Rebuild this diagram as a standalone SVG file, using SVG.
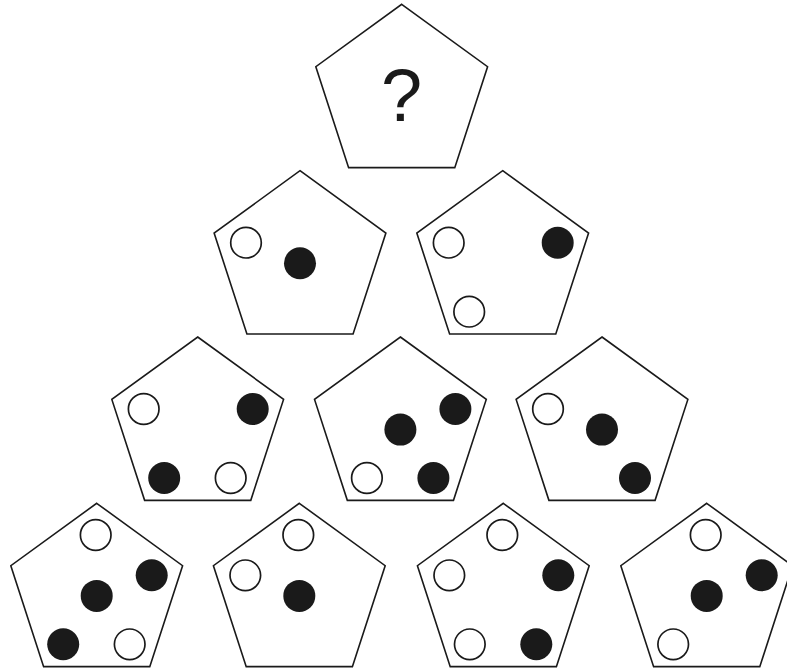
<svg xmlns="http://www.w3.org/2000/svg" xmlns:xlink="http://www.w3.org/1999/xlink" width="787" height="670" viewBox="0 0 787 670">
<style>
.pg{fill:#fff;stroke:#1a1a1a;stroke-width:1.6;stroke-linejoin:miter}
.o{fill:#fff;stroke:#1a1a1a;stroke-width:1.7}
.f{fill:#1a1a1a;stroke:none}
.q{font-family:"Liberation Sans",Arial,sans-serif;font-size:74px;fill:#1a1a1a;text-anchor:middle}
</style>
<defs>
<polygon id="pent" points="0,-90.3 85.88,-27.9 53.08,73.05 -53.08,73.05 -85.88,-27.9"/>
</defs>
<rect width="787" height="670" fill="#fff"/>
<g id="connectors"/>
<g id="top" transform="translate(401.7,94.6)">
<use xlink:href="#pent" class="pg"/>
<text class="q" x="0" y="26">?</text>
</g>
<g id="r2a" transform="translate(300,261)">
<use xlink:href="#pent" class="pg"/>
<circle class="o" cx="-54" cy="-18.3" r="15.3"/>
<circle class="f" cx="0" cy="2.3" r="16"/>
</g>
<g id="r2b" transform="translate(502.7,261)">
<use xlink:href="#pent" class="pg"/>
<circle class="o" cx="-54" cy="-18.3" r="15.3"/>
<circle class="f" cx="55" cy="-18.3" r="16"/>
<circle class="o" cx="-33.5" cy="50.7" r="15.3"/>
</g>
<g id="r3a" transform="translate(197.7,427.3)">
<use xlink:href="#pent" class="pg"/>
<circle class="o" cx="-54" cy="-18.3" r="15.3"/>
<circle class="f" cx="55" cy="-18.3" r="16"/>
<circle class="f" cx="-33.5" cy="50.7" r="16"/>
<circle class="o" cx="33" cy="50.7" r="15.3"/>
</g>
<g id="r3b" transform="translate(400.4,427.3)">
<use xlink:href="#pent" class="pg"/>
<circle class="f" cx="0" cy="2.3" r="16"/>
<circle class="f" cx="55" cy="-18.3" r="16"/>
<circle class="o" cx="-33.5" cy="50.7" r="15.3"/>
<circle class="f" cx="33" cy="50.7" r="16"/>
</g>
<g id="r3c" transform="translate(602,427.3)">
<use xlink:href="#pent" class="pg"/>
<circle class="o" cx="-54" cy="-18.3" r="15.3"/>
<circle class="f" cx="0" cy="2.3" r="16"/>
<circle class="f" cx="33" cy="50.7" r="16"/>
</g>
<g id="r4a" transform="translate(96.7,593.6)">
<use xlink:href="#pent" class="pg"/>
<circle class="o" cx="-1" cy="-58.6" r="15.3"/>
<circle class="f" cx="55" cy="-18.3" r="16"/>
<circle class="f" cx="0" cy="2.3" r="16"/>
<circle class="f" cx="-33.5" cy="50.7" r="16"/>
<circle class="o" cx="33" cy="50.7" r="15.3"/>
</g>
<g id="r4b" transform="translate(299.3,593.6)">
<use xlink:href="#pent" class="pg"/>
<circle class="o" cx="-1" cy="-58.6" r="15.3"/>
<circle class="o" cx="-54" cy="-18.3" r="15.3"/>
<circle class="f" cx="0" cy="2.3" r="16"/>
</g>
<g id="r4c" transform="translate(503.3,593.6)">
<use xlink:href="#pent" class="pg"/>
<circle class="o" cx="-1" cy="-58.6" r="15.3"/>
<circle class="o" cx="-54" cy="-18.3" r="15.3"/>
<circle class="f" cx="55" cy="-18.3" r="16"/>
<circle class="o" cx="-33.5" cy="50.7" r="15.3"/>
<circle class="f" cx="33" cy="50.7" r="16"/>
</g>
<g id="r4d" transform="translate(706.7,593.6)">
<use xlink:href="#pent" class="pg"/>
<circle class="o" cx="-1" cy="-58.6" r="15.3"/>
<circle class="f" cx="55" cy="-18.3" r="16"/>
<circle class="f" cx="0" cy="2.3" r="16"/>
<circle class="o" cx="-33.5" cy="50.7" r="15.3"/>
</g>
</svg>
